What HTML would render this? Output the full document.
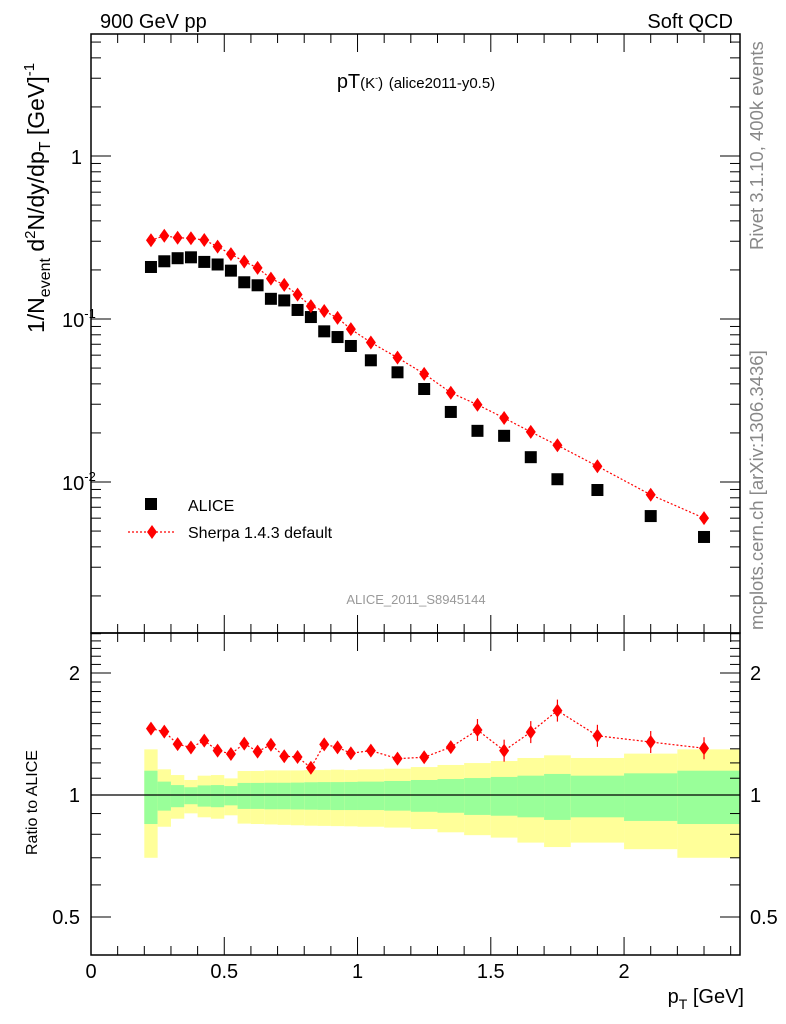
<!DOCTYPE html>
<html><head><meta charset="utf-8"><style>
body{margin:0;background:#fff}
svg{display:block;font-family:"Liberation Sans",sans-serif}
</style></head><body>
<svg id="chart" width="786" height="1024" viewBox="0 0 786 1024">
<g id="bands"></g>
<g id="marks"></g>
<g id="axes"></g>
<text x="100" y="28" font-size="20">900 GeV pp</text>
<text x="733" y="28" font-size="20" text-anchor="end">Soft QCD</text>
<text x="416" y="88" font-size="20" text-anchor="middle">pT<tspan font-size="15">(K<tspan dy="-7" font-size="9">-</tspan><tspan dy="7">)</tspan></tspan> <tspan font-size="15">(alice2011-y0.5)</tspan></text>
<text x="416" y="604" font-size="13" fill="#999" text-anchor="middle">ALICE_2011_S8945144</text>
<text transform="translate(763,250) rotate(-90)" font-size="18.5" fill="#888">Rivet 3.1.10,  400k events</text>
<text transform="translate(763,630) rotate(-90)" font-size="18.5" fill="#888">mcplots.cern.ch [arXiv:1306.3436]</text>
<text transform="translate(44,333) rotate(-90)" font-size="23">1/N<tspan font-size="16" dy="6">event</tspan><tspan dy="-6"> d</tspan><tspan font-size="15" dy="-9">2</tspan><tspan dy="9">N/dy/dp</tspan><tspan font-size="16" dy="6">T</tspan><tspan dy="-6"> [GeV]</tspan><tspan font-size="15" dy="-10">-1</tspan></text>
<text transform="translate(37,855) rotate(-90)" font-size="16">Ratio to ALICE</text>
<text x="744" y="1003" font-size="20" text-anchor="end">p<tspan font-size="14" dy="6">T</tspan><tspan dy="-6"> [GeV]</tspan></text>
<g>
<rect x="145" y="498" width="12" height="12" fill="#000"/>
<text x="188" y="511" font-size="16">ALICE</text>
<line x1="128" y1="532" x2="176" y2="532" stroke="red" stroke-width="1.2" stroke-dasharray="2,2"/>
<path d="M152,525 L157,532 L152,539 L147,532Z" fill="red"/>
<text x="188" y="538" font-size="16">Sherpa 1.4.3 default</text>
</g>
</svg>
<script>
const binLo=[0.2,0.25,0.3,0.35,0.4,0.45,0.5,0.55,0.6,0.65,0.7,0.75,0.8,0.85,0.9,0.95,1.0,1.1,1.2,1.3,1.4,1.5,1.6,1.7,1.8,2.0,2.2];
const binHi=[0.25,0.3,0.35,0.4,0.45,0.5,0.55,0.6,0.65,0.7,0.75,0.8,0.85,0.9,0.95,1.0,1.1,1.2,1.3,1.4,1.5,1.6,1.7,1.8,2.0,2.2,2.435];
const aliceVals=[0.2085,0.226,0.236,0.239,0.224,0.216,0.198,0.168,0.161,0.133,0.130,0.1136,0.1028,0.0840,0.0775,0.0683,0.0558,0.0471,0.0372,0.0269,0.0206,0.0192,0.0142,0.0104,0.00893,0.00618,0.0046];
const sherpaVals=[0.304,0.324,0.315,0.313,0.305,0.278,0.250,0.225,0.206,0.177,0.162,0.141,0.120,0.112,0.1016,0.0866,0.0718,0.0579,0.0461,0.0353,0.0298,0.0247,0.0203,0.0168,0.0125,0.00835,0.0060];
const yelHi=[1.296,1.157,1.12,1.089,1.116,1.12,1.099,1.146,1.146,1.15,1.15,1.15,1.152,1.152,1.155,1.152,1.157,1.161,1.172,1.186,1.199,1.213,1.234,1.253,1.234,1.265,1.296];
const grnHi=[1.148,1.079,1.058,1.045,1.056,1.058,1.052,1.071,1.071,1.072,1.072,1.073,1.075,1.076,1.076,1.077,1.079,1.083,1.089,1.095,1.101,1.108,1.116,1.127,1.116,1.131,1.148];
const grnLo=[0.848,0.915,0.933,0.949,0.936,0.933,0.943,0.924,0.924,0.922,0.922,0.921,0.92,0.919,0.918,0.918,0.918,0.915,0.909,0.904,0.893,0.889,0.881,0.868,0.881,0.863,0.848];
const yelLo=[0.70,0.835,0.874,0.901,0.881,0.874,0.891,0.85,0.848,0.846,0.844,0.842,0.84,0.839,0.838,0.837,0.835,0.831,0.824,0.809,0.796,0.785,0.763,0.744,0.763,0.735,0.70];
const xTickLabels=["0","0.5","1","1.5","2"];
const ratioTickLabels=["0.5","1","2"];

const NS="http://www.w3.org/2000/svg";
const L=91,R=740,T=34,M=633,B=955;
const xMax=2.435;
const X=v=>L+v/xMax*(R-L);
const Y=v=>156-163*Math.log10(v);
const RY=v=>795-122*Math.log2(v);
function mk(tag,attrs,parent){const e=document.createElementNS(NS,tag);for(const k in attrs)e.setAttribute(k,attrs[k]);parent.appendChild(e);return e;}
const bands=document.getElementById('bands'),marks=document.getElementById('marks'),axes=document.getElementById('axes');

for(let i=0;i<binLo.length;i++){
  const x1=X(binLo[i]),x2=X(binHi[i]);
  const y=mk('rect',{x:x1,y:RY(yelHi[i]),width:x2-x1,height:RY(yelLo[i])-RY(yelHi[i]),fill:'#ffff99'},bands);
  
  
  const g=mk('rect',{x:x1,y:RY(grnHi[i]),width:x2-x1,height:RY(grnLo[i])-RY(grnHi[i]),fill:'#99ff99'},bands);
  
  
}
mk('line',{x1:L,x2:R,y1:RY(1),y2:RY(1),stroke:'#000','stroke-width':1.2},bands);

const centers=binLo.map((l,i)=>i==binLo.length-1?2.3:(l+binHi[i])/2);
let p1='',p2='';
centers.forEach((c,i)=>{p1+=(i?'L':'M')+X(c)+','+Y(sherpaVals[i]);p2+=(i?'L':'M')+X(c)+','+RY(sherpaVals[i]/aliceVals[i]);});
const l1=mk('path',{d:p1,fill:'none',stroke:'red','stroke-width':1.2,'stroke-dasharray':'2,2'},marks);


const l2=mk('path',{d:p2,fill:'none',stroke:'red','stroke-width':1.2,'stroke-dasharray':'2,2'},marks);


function diamond(x,y){return `M${x},${y-7}L${x+5},${y}L${x},${y+7}L${x-5},${y}Z`;}
centers.forEach((c,i)=>{
  const x=X(c);
  const s=mk('rect',{x:x-6,y:Y(aliceVals[i])-6,width:12,height:12,fill:'#000'},marks);
  
  
  const d=mk('path',{d:diamond(x,Y(sherpaVals[i])),fill:'red'},marks);
  
  
  const ry=RY(sherpaVals[i]/aliceVals[i]);
  const r=mk('path',{d:diamond(x,ry),fill:'red'},marks);
  
  
  if(c>1.4) mk('line',{x1:x,x2:x,y1:ry-11,y2:ry+11,stroke:'red','stroke-width':1.2},marks);
});

mk('rect',{x:L,y:T,width:R-L,height:M-T,fill:'none',stroke:'#000','stroke-width':1.5},axes);
mk('rect',{x:L,y:M,width:R-L,height:B-M,fill:'none',stroke:'#000','stroke-width':1.5},axes);
function tk(x1,y1,x2,y2){mk('line',{x1,y1,x2,y2,stroke:'#000','stroke-width':1},axes);}
for(let k=0;k*0.1<=xMax;k++){
  const v=k*0.1,x=X(v),len=(k%5==0)?18:9;
  tk(x,T,x,T+len);tk(x,M,x,M-len);tk(x,M,x,M+len);tk(x,B,x,B-len);
}
xTickLabels.forEach(s=>{
  const t=mk('text',{x:X(parseFloat(s)),y:978,'font-size':20,'text-anchor':'middle'},axes);t.textContent=s;
  
  
});
for(let e=-3;e<=0;e++){for(let m=1;m<10;m++){
  const v=m*Math.pow(10,e);const y=Y(v);if(y<T||y>M)continue;
  const len=m==1?20:10;tk(L,y,L+len,y);tk(R,y,R-len,y);
}}
[[1,'1',''],[0.1,'10','-1'],[0.01,'10','-2']].forEach(a=>{
  const t=mk('text',{x:80,y:Y(a[0])+8,'font-size':20,'text-anchor':'end'},axes);
  
  
  if(a[2]){t.setAttribute('x',62);t.setAttribute('text-anchor','start');t.innerHTML='10<tspan font-size="13" dy="-9">'+a[2]+'</tspan>';}else{t.setAttribute('x',82);t.textContent='1';}
});
for(let k=4;k<=25;k++){
  const v=k/10,y=RY(v);if(y<M||y>B)continue;
  const len=(k==5||k==10||k==20)?20:10;tk(L,y,L+len,y);tk(R,y,R-len,y);
}
ratioTickLabels.forEach(s=>{
  const y=RY(parseFloat(s))+7;
  const a=mk('text',{x:80,y,'font-size':20,'text-anchor':'end'},axes);a.textContent=s;
  
  
  const b=mk('text',{x:750,y,'font-size':20},axes);b.textContent=s;
  
  
});
</script>
</body></html>
